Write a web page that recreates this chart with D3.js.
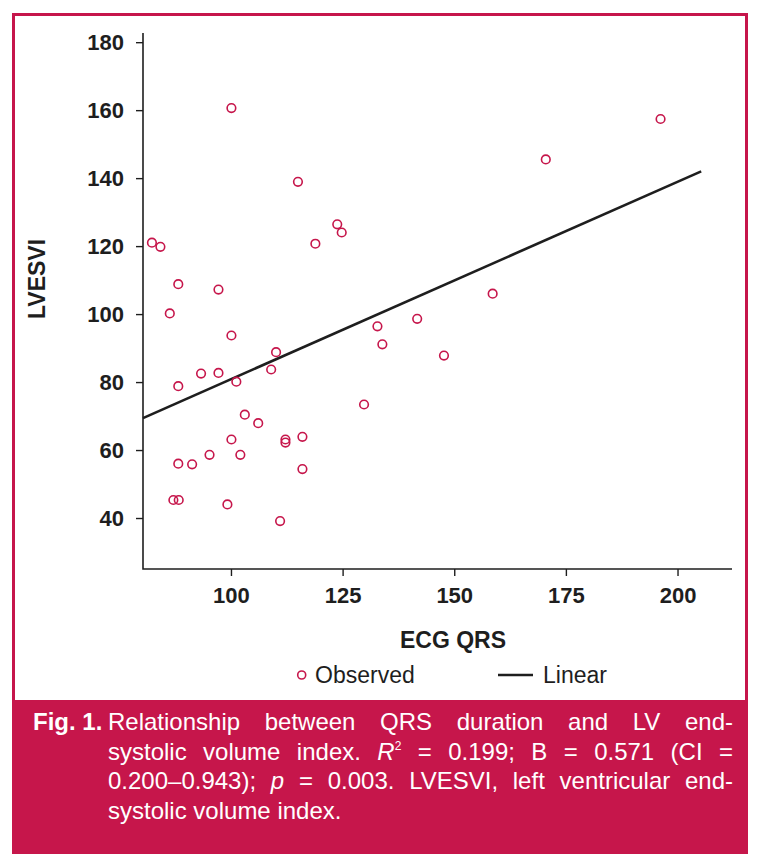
<!DOCTYPE html>
<html>
<head>
<meta charset="utf-8">
<script src="https://cdn.jsdelivr.net/npm/d3@7"></script>
<style>
  html, body { margin: 0; padding: 0; background: #ffffff; }
  svg { display: block; font-family: "Liberation Sans", Arial, Helvetica, sans-serif; }
</style>
</head>
<body>
<svg id="chart" width="763" height="868"></svg>
<script>
// ---- data ----
const qrs = [100.1, 115.0, 82.3, 84.2, 118.9, 123.8, 124.8, 88.2, 97.2, 86.3,
             100.1, 93.3, 97.2, 88.2, 101.2, 110.1, 109.0, 132.8, 133.9, 129.8,
             103.1, 106.1, 100.1, 112.2, 112.2, 116.0, 95.2, 102.1, 88.2, 91.3,
             116.0, 87.1, 88.3, 99.2, 111.0, 196.2, 170.5, 158.6, 141.7, 147.7];
const lvesvi = [160.6, 138.9, 121.0, 119.8, 120.7, 126.4, 124.0, 108.8, 107.2, 100.2,
                93.7, 82.5, 82.7, 78.8, 80.1, 88.8, 83.7, 96.4, 91.1, 73.4,
                70.4, 67.9, 63.1, 63.1, 62.2, 63.9, 58.6, 58.6, 56.0, 55.8,
                54.4, 45.3, 45.3, 44.0, 39.1, 157.4, 145.5, 106.0, 98.6, 87.8];
const fitX = [80.3, 205.3];
const fitY = [69.4, 142.0];
const xTicks = [100, 125, 150, 175, 200];
const yTicks = [40, 60, 80, 100, 120, 140, 160, 180];
const xTitle = "ECG QRS";
const yTitle = "LVESVI";
const legendLabels = ["Observed", "Linear"];

const RED = "#c6164b";
const INK = "#1e1e1e";

const svg = d3.select("#chart");

// frame
svg.append("rect").attr("x", 13.5).attr("y", 14.5).attr("width", 733).attr("height", 690)
  .attr("fill", "#fff").attr("stroke", RED).attr("stroke-width", 3);
svg.append("rect").attr("x", 12).attr("y", 700).attr("width", 736).attr("height", 154)
  .attr("fill", RED);

// scales
const x = d3.scaleLinear().domain([80.3, 212.2]).range([143, 732]);
const y = d3.scaleLinear().domain([25, 182.7]).range([569, 33]);

// axes
const gx = svg.append("g").attr("transform", "translate(0,569)")
  .call(d3.axisBottom(x).tickValues(xTicks).tickSizeOuter(0).tickSize(7).tickPadding(10));
const gy = svg.append("g").attr("transform", "translate(143,0)")
  .call(d3.axisLeft(y).tickValues(yTicks).tickSizeOuter(0).tickSize(7).tickPadding(12));
[gx, gy].forEach(g => {
  g.select(".domain").remove();
  g.selectAll(".tick line").attr("stroke", INK).attr("stroke-width", 1.4);
  g.selectAll(".tick text").attr("fill", INK).attr("font-size", 22).attr("font-weight", "bold")
    .attr("font-family", "'Liberation Sans', Arial, sans-serif");
});
gx.selectAll(".tick text").attr("dy", "0.75em");
// axis lines
svg.append("path")
  .attr("d", `M${x.range()[0]},${y.range()[1]}V${y.range()[0]}H${x.range()[1]}`)
  .attr("fill", "none").attr("stroke", INK).attr("stroke-width", 1.6);

// axis titles
svg.append("text").attr("x", 453).attr("y", 648).attr("text-anchor", "middle")
  .attr("font-size", 23).attr("font-weight", "bold").attr("fill", INK).text(xTitle);
svg.append("text").attr("transform", "translate(45,279) rotate(-90)").attr("text-anchor", "middle")
  .attr("font-size", 23).attr("font-weight", "bold").attr("fill", INK).text(yTitle);

// regression line
svg.append("line")
  .attr("x1", x(fitX[0])).attr("y1", y(fitY[0]))
  .attr("x2", x(fitX[1])).attr("y2", y(fitY[1]))
  .attr("stroke", INK).attr("stroke-width", 2.6);

// points
svg.append("g").selectAll("circle").data(qrs).join("circle")
  .attr("cx", (d) => x(d)).attr("cy", (d, i) => y(lvesvi[i]))
  .attr("r", 4.3).attr("fill", "none").attr("stroke", RED).attr("stroke-width", 1.6);

// legend
svg.append("circle").attr("cx", 301.7).attr("cy", 675).attr("r", 4)
  .attr("fill", "none").attr("stroke", RED).attr("stroke-width", 1.6);
svg.append("text").attr("x", 315).attr("y", 683).attr("font-size", 23).attr("fill", INK).text(legendLabels[0]);
svg.append("line").attr("x1", 498).attr("x2", 533).attr("y1", 675).attr("y2", 675)
  .attr("stroke", INK).attr("stroke-width", 2.6);
svg.append("text").attr("x", 543).attr("y", 683).attr("font-size", 23).attr("fill", INK).text(legendLabels[1]);

// caption
const capFont = 24;
svg.append("text").attr("x", 33).attr("y", 730).attr("font-size", capFont).attr("font-weight", "bold")
  .attr("fill", "#fff").text("Fig. 1.");

const lines = [
  [{t: "Relationship between QRS duration and LV end-"}],
  [{t: "systolic volume index. "}, {t: "R", i: true}, {t: "2", sup: true}, {t: " = 0.199; B = 0.571 (CI ="}],
  [{t: "0.200\u20130.943); "}, {t: "p", i: true}, {t: " = 0.003. LVESVI, left ventricular end-"}],
  [{t: "systolic volume index."}]
];
const left = 108, right = 733, base0 = 730, lh = 29.5;
lines.forEach((parts, li) => {
  const tx = svg.append("text").attr("x", left).attr("y", base0 + li * lh)
    .attr("font-size", capFont).attr("fill", "#fff").attr("xml:space", "preserve");
  parts.forEach(p => {
    const ts = tx.append("tspan").text(p.t);
    if (p.i) ts.attr("font-style", "italic");
    if (p.sup) ts.attr("font-size", 12).attr("dy", -10);
    if (p.t === " = 0.199; B = 0.571 (CI =") ts.attr("dy", 10);
  });
  if (li < lines.length - 1) {
    const w = tx.node().getComputedTextLength();
    const spaces = parts.map(p => p.t).join("").split(" ").length - 1;
    const extra = (right - left - w) / spaces;
    tx.style("word-spacing", extra + "px");
  }
});
</script>
</body>
</html>
